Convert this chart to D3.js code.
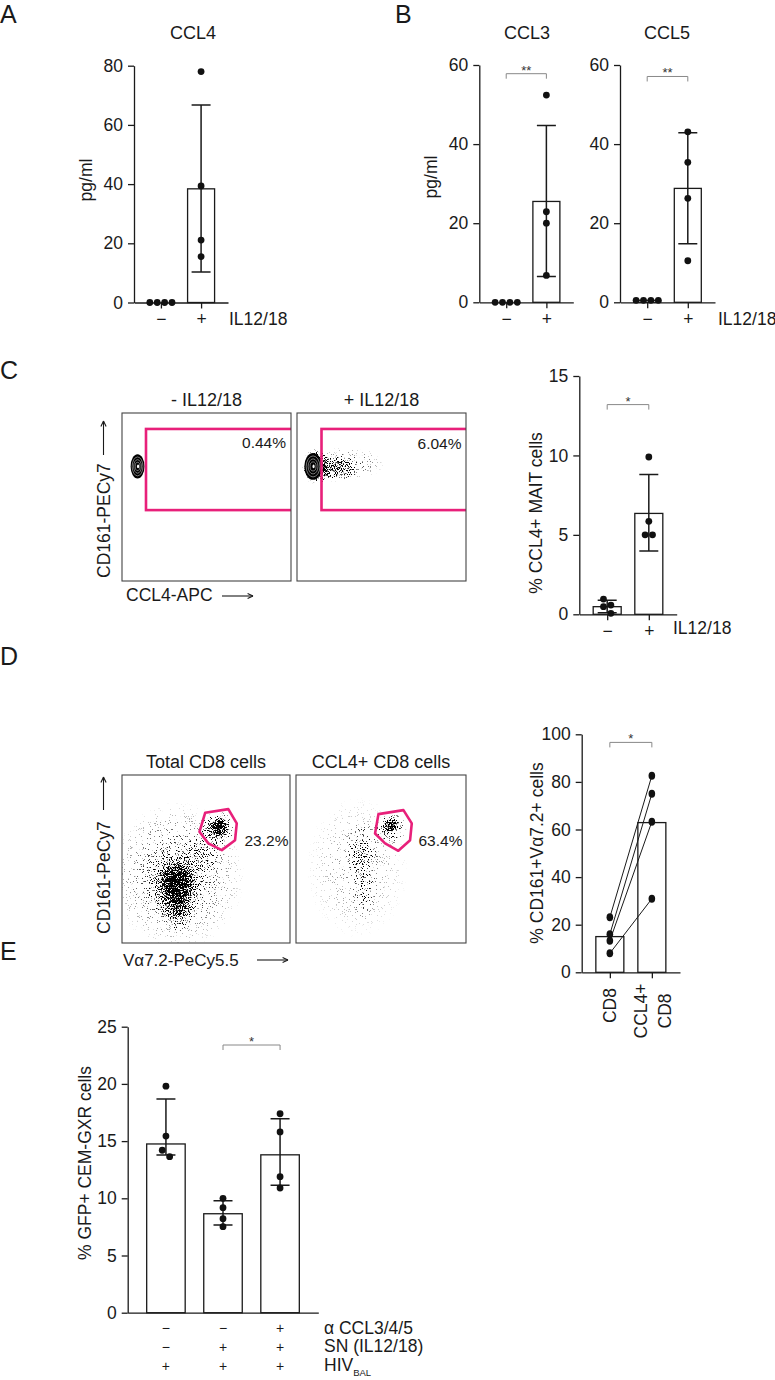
<!DOCTYPE html>
<html>
<head>
<meta charset="utf-8">
<script src="https://cdn.jsdelivr.net/npm/d3@7"></script>
<style>
body{margin:0;background:#fff}
svg{display:block;font-family:"Liberation Sans",Arial,Helvetica,sans-serif}
</style>
</head>
<body>
<script>
// ---- data ----
// A : CCL4 (pg/ml), mean +/- sd
const ilCats = ['−', '+'];
const ccl4Mean = [0, 38.4], ccl4Lo = [0, 10.3], ccl4Hi = [0, 66.7];
const ccl4Pts = [[0, 0, 0, 0], [78, 39.4, 21.1, 15.5]];
// B : CCL3 / CCL5
const ccl3Mean = [0, 25.5], ccl3Lo = [0, 6.5], ccl3Hi = [0, 44.7];
const ccl3Pts = [[0, 0, 0, 0], [52.4, 22.9, 20.0, 6.8]];
const ccl5Mean = [0.5, 28.8], ccl5Lo = [0.5, 14.8], ccl5Hi = [0.5, 42.9];
const ccl5Pts = [[0.5, 0.5, 0.5, 0.5], [43.1, 35.4, 26.3, 10.5]];
// C : % CCL4+ MAIT cells
const maitMean = [0.48, 6.35], maitLo = [0.1, 3.98], maitHi = [0.88, 8.8];
const maitPts = [[0.96, 0.58, 0.48, 0.06], [9.9, 5.85, 5.0, 5.0]];
// D : % CD161+Va7.2+ cells, paired donors
const cd8Cats = ['CD8', 'CCL4+ CD8'];
const cd8Mean = [15.0, 62.9];
const cd8Pts = [23.1, 16.0, 13.3, 8.0];
const ccl4cd8Pts = [82.6, 75.0, 63.3, 30.9];
// E : % GFP+ CEM-GXR cells, median + range bars
const eCats = ['1', '2', '3'];
const gfpMean = [14.75, 8.65, 13.8], gfpLo = [13.78, 7.67, 11.14], gfpHi = [18.68, 9.79, 16.96];
const gfpPts = [[19.8, 15.44, 14.2, 13.64], [10.0, 9.18, 8.22, 7.52], [17.39, 15.8, 11.89, 10.9]];
const eRowLabels = ['α CCL3/4/5', 'SN (IL12/18)', 'HIV'];
const eRowMarks = [['−', '−', '+'], ['−', '+', '+'], ['+', '+', '+']];

// flow plots (fractions of plot box, from top-left)
const cNegGate = [0.142, 0.095, 0.578], cPosGate = [0.145, 0.095, 0.578];
const cNegContour = [0.092, 0.318, 0.041, 0.072];
const cPosContour = [0.095, 0.318, 0.052, 0.08];
const cPosTail = [[0.12, 0.32, 0.09, 0.11, 0.95], [0.22, 0.33, 0.16, 0.08, 0.5], [0.3, 0.3, 0.22, 0.1, 0.22]];
const dTotGate = [[0.495, 0.225], [0.633, 0.203], [0.683, 0.288], [0.673, 0.388], [0.594, 0.447], [0.514, 0.407], [0.461, 0.338]];
const dCclGate = [[0.485, 0.233], [0.632, 0.209], [0.681, 0.288], [0.671, 0.388], [0.602, 0.451], [0.524, 0.407], [0.465, 0.348]];
const dTotPops = [[0.33, 0.64, 0.1, 0.12, 1], [0.32, 0.66, 0.17, 0.21, 0.75], [0.33, 0.8, 0.1, 0.14, 0.5],
  [0.33, 0.6, 0.4, 0.44, 0.26], [0.58, 0.31, 0.06, 0.06, 1], [0.57, 0.32, 0.11, 0.11, 0.6], [0.46, 0.47, 0.14, 0.12, 0.25]];
const dCclPops = [[0.56, 0.3, 0.05, 0.05, 0.95], [0.555, 0.315, 0.1, 0.1, 0.45], [0.39, 0.45, 0.1, 0.18, 0.3],
  [0.4, 0.66, 0.08, 0.22, 0.2], [0.36, 0.55, 0.3, 0.42, 0.12]];

const W = 775, H = 1380;
const INK = '#1a1a1a', PINK = '#e8207a';

const svg = d3.select('body').append('svg').attr('width', W).attr('height', H);
const defs = svg.append('defs');
const grad = defs.append('radialGradient').attr('id', 'dens');
[[0, 1], [0.5, 0.6], [1, 0]].forEach(s => grad.append('stop').attr('offset', s[0]).attr('stop-color', '#000').attr('stop-opacity', s[1]));
const filt = defs.append('filter').attr('id', 'speckle').attr('filterUnits', 'userSpaceOnUse')
  .attr('x', 0).attr('y', 0).attr('width', W).attr('height', H).attr('color-interpolation-filters', 'sRGB');
filt.append('feTurbulence').attr('type', 'fractalNoise').attr('baseFrequency', 0.85).attr('numOctaves', 2).attr('seed', 7).attr('result', 'noise');
filt.append('feColorMatrix').attr('in', 'noise').attr('type', 'matrix')
  .attr('values', '0 0 0 0 0  0 0 0 0 0  0 0 0 0 0  2.5 0 0 0 -0.75').attr('result', 'n');
filt.append('feComposite').attr('in', 'SourceAlpha').attr('in2', 'n').attr('operator', 'arithmetic')
  .attr('k1', 0).attr('k2', 5).attr('k3', -5).attr('k4', 0);

function txt(g, x, y, s, size, anchor) {
  return g.append('text').attr('x', x).attr('y', y).attr('font-size', size)
    .attr('text-anchor', anchor || 'start').attr('fill', INK).text(s);
}
function vlabel(x, y, s, size, anchor) {
  return svg.append('text').attr('transform', `translate(${x},${y}) rotate(-90)`)
    .attr('font-size', size).attr('text-anchor', anchor || 'middle').attr('fill', INK).text(s);
}
function arrow(x1, y1, x2, y2) {
  svg.append('line').attr('x1', x1).attr('y1', y1).attr('x2', x2).attr('y2', y2).attr('stroke', INK).attr('stroke-width', 1.1);
  const a = Math.atan2(y2 - y1, x2 - x1), L = 6, s = 0.45;
  svg.append('path').attr('d', `M${x2},${y2}L${x2 - L * Math.cos(a - s)},${y2 - L * Math.sin(a - s)}M${x2},${y2}L${x2 - L * Math.cos(a + s)},${y2 - L * Math.sin(a + s)}`)
    .attr('stroke', INK).attr('stroke-width', 1.1).attr('fill', 'none');
}

// place dots: values closer than a dot are set side by side
function swarm(vals, y, cx, r) {
  const s = vals.slice().sort((a, b) => b - a), rows = [];
  s.forEach(v => {
    const last = rows[rows.length - 1];
    if (last && Math.abs(y(last[0]) - y(v)) < 2 * r) last.push(v); else rows.push([v]);
  });
  const out = [];
  rows.forEach(row => row.forEach((v, k) => out.push([cx + (k - (row.length - 1) / 2) * (2 * r + 0.6), y(v)])));
  return out;
}

function barChart(o) {
  const g = svg.append('g');
  const y = d3.scaleLinear().domain([0, o.max]).range([o.y0, o.yTop]);
  const x = d3.scalePoint().domain(o.cats).range([o.ax, o.xEnd]).padding(0.67);
  const ya = g.append('g').attr('transform', `translate(${o.ax},0)`)
    .call(d3.axisLeft(y).tickValues(o.ticks).tickSize(6).tickPadding(5).tickSizeOuter(0));
  const xa = g.append('g').attr('transform', `translate(0,${o.y0})`)
    .call(d3.axisBottom(x).tickSize(o.xTick == null ? 6 : o.xTick).tickPadding(4).tickSizeOuter(0)
      .tickFormat(o.xFmt || (d => d)));
  [ya, xa].forEach(a => {
    a.attr('font-family', null).attr('font-size', 17.5);
    a.selectAll('path,line').attr('stroke', INK).attr('stroke-width', 1.3);
    a.selectAll('text').attr('fill', INK);
  });
  g.selectAll('rect.bar').data(o.cats).join('rect').attr('class', 'bar')
    .attr('x', c => x(c) - o.bw / 2).attr('y', (c, i) => y(o.mean[i]))
    .attr('width', o.bw).attr('height', (c, i) => o.y0 - y(o.mean[i]))
    .attr('fill', '#fff').attr('stroke', INK).attr('stroke-width', 1.3);
  if (o.lo) o.cats.forEach((c, i) => {
    if (o.hi[i] - o.lo[i] < 0.01) return;
    const cx = x(c), cw = 9.5;
    g.append('path').attr('d', `M${cx},${y(o.lo[i])}V${y(o.hi[i])}M${cx - cw},${y(o.hi[i])}H${cx + cw}M${cx - cw},${y(o.lo[i])}H${cx + cw}`)
      .attr('stroke', INK).attr('stroke-width', 1.5).attr('fill', 'none');
  });
  if (o.pts) o.cats.forEach((c, i) => {
    g.selectAll(null).data(swarm(o.pts[i], y, x(c), 3.4)).join('circle')
      .attr('cx', d => d[0]).attr('cy', d => d[1]).attr('r', 3.4).attr('fill', '#111');
  });
  if (o.br) {
    const yb = y(o.br.v), a = x(o.cats[o.br.a]), b = x(o.cats[o.br.b]);
    g.append('path').attr('d', `M${a},${yb + 5}V${yb}H${b}V${yb + 5}`).attr('fill', 'none').attr('stroke', '#888').attr('stroke-width', 1);
    txt(g, (a + b) / 2, yb + 1, o.br.t, 13, 'middle').attr('fill', '#333');
  }
  return { g, x, y };
}

function flowPlot(o) {
  const g = svg.append('g');
  const fx = d3.scaleLinear().domain([0, 1]).range([o.x0, o.x0 + o.w]);
  const fy = d3.scaleLinear().domain([0, 1]).range([o.y0, o.y0 + o.h]);
  defs.append('clipPath').attr('id', 'clip-' + o.id).append('rect')
    .attr('x', o.x0).attr('y', o.y0).attr('width', o.w).attr('height', o.h);
  const inner = g.append('g').attr('clip-path', `url(#clip-${o.id})`);
  if (o.pops) inner.append('g').attr('filter', 'url(#speckle)').selectAll('ellipse').data(o.pops).join('ellipse')
    .attr('cx', d => fx(d[0])).attr('cy', d => fy(d[1]))
    .attr('rx', d => fx(d[2]) - fx(0)).attr('ry', d => fy(d[3]) - fy(0))
    .attr('fill', 'url(#dens)').attr('fill-opacity', d => d[4]);
  if (o.contour) {
    const c = o.contour, cx = fx(c[0]), cy = fy(c[1]), rx = fx(c[2]) - fx(0), ry = fy(c[3]) - fy(0);
    inner.append('ellipse').attr('cx', cx).attr('cy', cy).attr('rx', rx).attr('ry', ry).attr('fill', '#000');
    inner.selectAll('ellipse.ring').data([0.78, 0.56, 0.34]).join('ellipse').attr('class', 'ring')
      .attr('cx', cx).attr('cy', cy).attr('rx', k => k * rx).attr('ry', k => k * ry)
      .attr('fill', 'none').attr('stroke', '#fff').attr('stroke-width', 0.45);
    inner.append('ellipse').attr('cx', cx + 0.5).attr('cy', cy).attr('rx', 1.1).attr('ry', 1.8).attr('fill', '#fff');
  }
  if (o.rectGate) {
    const r = o.rectGate;
    inner.append('rect').attr('x', fx(r[0])).attr('y', fy(r[1])).attr('width', fx(1.2) - fx(r[0])).attr('height', fy(r[2]) - fy(r[1]))
      .attr('fill', 'none').attr('stroke', PINK).attr('stroke-width', 2.6);
  }
  if (o.polyGate) {
    g.append('path').attr('d', d3.line().x(d => fx(d[0])).y(d => fy(d[1])).curve(d3.curveLinearClosed)(o.polyGate))
      .attr('fill', 'none').attr('stroke', PINK).attr('stroke-width', 2.6).attr('stroke-linejoin', 'round');
  }
  g.append('rect').attr('x', o.x0).attr('y', o.y0).attr('width', o.w).attr('height', o.h)
    .attr('fill', 'none').attr('stroke', '#444').attr('stroke-width', 1.1);
  txt(g, o.x0 + o.w / 2, o.y0 - 7, o.title, 18, 'middle');
  txt(g, o.x0 + o.pctX, o.y0 + o.pctY, o.pct, 15.5, o.pctAnchor);
}

// ---- panel letters ----
[['A', 0, 23], ['B', 395, 23], ['C', 0, 379], ['D', 0, 665], ['E', 0, 960]]
  .forEach(l => txt(svg, l[1], l[2], l[0], 25));

// ---- A ----
barChart({ cats: ilCats, ax: 134, xEnd: 228, y0: 302.5, yTop: 65.7, max: 80, ticks: [0, 20, 40, 60, 80],
  bw: 27, mean: ccl4Mean, lo: ccl4Lo, hi: ccl4Hi, pts: ccl4Pts });
txt(svg, 193, 38.5, 'CCL4', 18, 'middle');
vlabel(91.5, 180, 'pg/ml', 17.5);
txt(svg, 229, 325, 'IL12/18', 17.5);

// ---- B ----
barChart({ cats: ilCats, ax: 479.3, xEnd: 573.3, y0: 302.3, yTop: 65, max: 60, ticks: [0, 20, 40, 60],
  bw: 27, mean: ccl3Mean, lo: ccl3Lo, hi: ccl3Hi, pts: ccl3Pts, br: { a: 0, b: 1, v: 57.8, t: '**' } });
barChart({ cats: ilCats, ax: 620, xEnd: 715, y0: 302.3, yTop: 65, max: 60, ticks: [0, 20, 40, 60],
  bw: 27, mean: ccl5Mean, lo: ccl5Lo, hi: ccl5Hi, pts: ccl5Pts, br: { a: 0, b: 1, v: 57.1, t: '**' } });
txt(svg, 527, 38.5, 'CCL3', 18, 'middle');
txt(svg, 667, 38.5, 'CCL5', 18, 'middle');
vlabel(437, 177, 'pg/ml', 17.5);
txt(svg, 718, 325, 'IL12/18', 17.5);

// ---- C ----
flowPlot({ id: 'c1', x0: 122, y0: 413, w: 169, h: 168, title: '- IL12/18', pct: '0.44%', pctX: 164, pctY: 35, pctAnchor: 'end',
  rectGate: cNegGate, contour: cNegContour });
flowPlot({ id: 'c2', x0: 297, y0: 413, w: 169, h: 168, title: '+ IL12/18', pct: '6.04%', pctX: 164.5, pctY: 36, pctAnchor: 'end',
  rectGate: cPosGate, contour: cPosContour, pops: cPosTail });
vlabel(109.5, 578, 'CD161-PECy7', 17.5, 'start');
arrow(103.5, 455, 103.5, 421);
txt(svg, 126, 601, 'CCL4-APC', 17.5);
arrow(222, 596, 253, 596);

barChart({ cats: ilCats, ax: 579.3, xEnd: 676.7, y0: 614.3, yTop: 376, max: 15, ticks: [0, 5, 10, 15],
  bw: 28, mean: maitMean, lo: maitLo, hi: maitHi, pts: maitPts, br: { a: 0, b: 1, v: 13.2, t: '*' } });
vlabel(541.5, 513, '% CCL4+ MAIT cells', 17.5);
txt(svg, 673, 634, 'IL12/18', 17.5);

// ---- D ----
flowPlot({ id: 'd1', x0: 122, y0: 775, w: 168, h: 168, title: 'Total CD8 cells', pct: '23.2%', pctX: 122.5, pctY: 70.5, pctAnchor: 'start',
  polyGate: dTotGate, pops: dTotPops });
flowPlot({ id: 'd2', x0: 296, y0: 775, w: 170, h: 168, title: 'CCL4+ CD8 cells', pct: '63.4%', pctX: 122.5, pctY: 70.5, pctAnchor: 'start',
  polyGate: dCclGate, pops: dCclPops });
vlabel(109.5, 934, 'CD161-PeCy7', 17.5, 'start');
arrow(103.5, 810, 103.5, 777);
txt(svg, 123, 966, 'Vα7.2-PeCy5.5', 17);
arrow(257, 960, 288, 960);

const pD = barChart({ cats: cd8Cats, ax: 581.7, xEnd: 680, y0: 972.3, yTop: 734.3, max: 100, ticks: [0, 20, 40, 60, 80, 100],
  bw: 28, mean: cd8Mean, xFmt: () => '', br: { a: 0, b: 1, v: 96.6, t: '*' } });
cd8Pts.forEach((v, i) => {
  pD.g.append('line').attr('x1', pD.x(cd8Cats[0])).attr('y1', pD.y(v)).attr('x2', pD.x(cd8Cats[1])).attr('y2', pD.y(ccl4cd8Pts[i]))
    .attr('stroke', INK).attr('stroke-width', 1);
});
[cd8Pts, ccl4cd8Pts].forEach((arr, j) => pD.g.selectAll(null).data(arr).join('ellipse')
  .attr('cx', pD.x(cd8Cats[j])).attr('cy', d => pD.y(d)).attr('rx', 3.3).attr('ry', 4).attr('fill', '#111'));
vlabel(pD.x(cd8Cats[0]) + 6, 988, 'CD8', 17.5, 'end');
const lab2 = svg.append('text').attr('transform', `translate(${pD.x(cd8Cats[1])},1011) rotate(-90)`)
  .attr('font-size', 17.5).attr('text-anchor', 'middle').attr('fill', INK);
lab2.append('tspan').attr('x', 0).attr('y', -4.5).text('CCL4+');
lab2.append('tspan').attr('x', 0).attr('y', 19).text('CD8');
vlabel(543, 853, '% CD161+Vα7.2+ cells', 17.5);

// ---- E ----
const pE = barChart({ cats: eCats, ax: 127.7, xEnd: 318.3, y0: 1312.7, yTop: 1026.7, max: 25, ticks: [0, 5, 10, 15, 20, 25],
  bw: 38.5, mean: gfpMean, lo: gfpLo, hi: gfpHi, pts: gfpPts, xTick: 0, xFmt: () => '', br: { a: 1, b: 2, v: 23.4, t: '*' } });
vlabel(91, 1163, '% GFP+ CEM-GXR cells', 17.5);
const rowY = [1333.5, 1352, 1371];
eRowMarks.forEach((row, r) => row.forEach((m, i) => txt(svg, pE.x(eCats[i]), rowY[r] - 0.5, m, 14, 'middle')));
eRowLabels.forEach((l, r) => {
  const t = txt(svg, 324, rowY[r], l, 17.5);
  if (r === 2) t.append('tspan').attr('font-size', 9.5).attr('dy', 5).text('BAL');
});
</script>
</body>
</html>
